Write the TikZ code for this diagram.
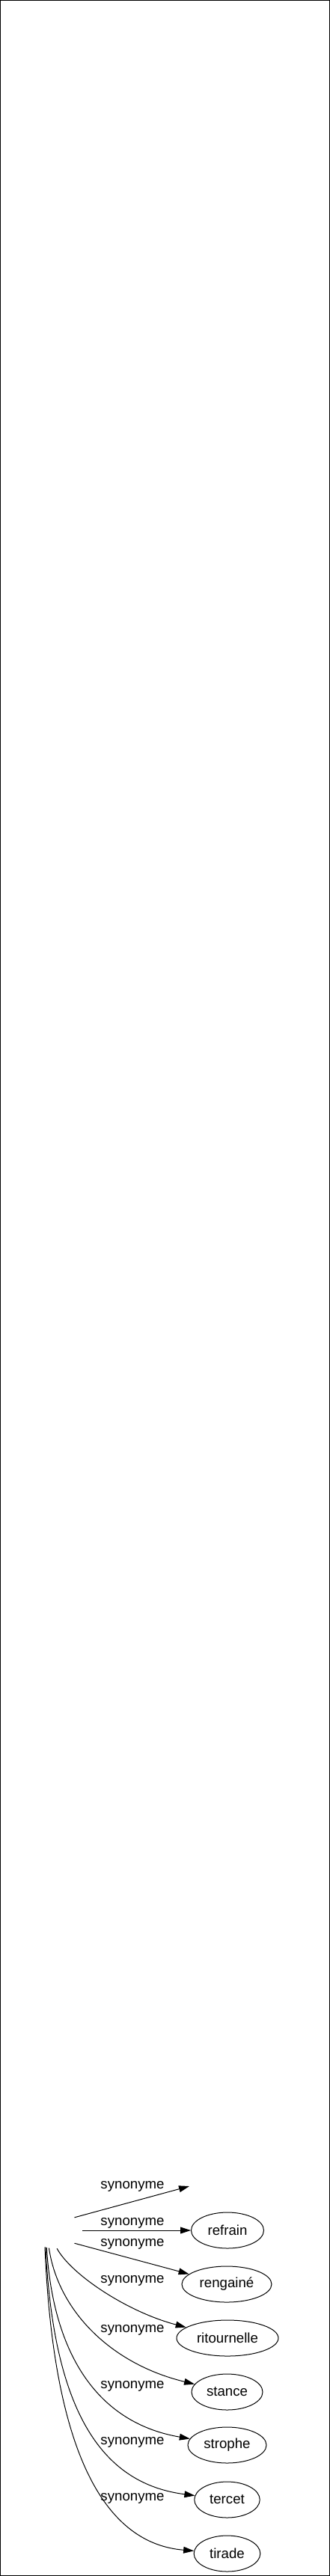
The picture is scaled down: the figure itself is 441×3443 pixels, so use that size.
\documentclass[tikz,border=0pt]{standalone}
\usepackage{fontspec}
\setmainfont{Liberation Sans}
\usetikzlibrary{shapes.geometric,arrows.meta}
\begin{document}
\begin{tikzpicture}[x=0.75pt,y=-0.75pt,
  word/.style={draw, ellipse, line width=0.75pt, inner sep=0pt, minimum height=36pt, font=\fontsize{14}{16}\selectfont},
  hidden/.style={ellipse, inner sep=0pt, minimum width=54pt, minimum height=36pt},
  lbl/.style={inner sep=0pt, font=\fontsize{14}{16}\selectfont},
  syn/.style={-{Triangle[length=10.5pt,width=6.6pt]}, line width=0.75pt},
]
\useasboundingbox (0,0) rectangle (441,3443);
\draw[line width=0.75pt] (0.5,0.5) rectangle (440.5,3442.5);

\node[hidden] (src) at (74,2981) {};
\coordinate (e0) at (253,2922);
\node[word, minimum width=72.75pt] (refrain) at (304,2981) {refrain};
\node[word, minimum width=90pt] (rengaine) at (303,3053) {rengainé};
\node[word, minimum width=102pt] (ritournelle) at (304,3125) {ritournelle};
\node[word, minimum width=71.25pt] (stance) at (303.5,3197) {stance};
\node[word, minimum width=78.75pt] (strophe) at (303.5,3268) {strophe};
\node[word, minimum width=65.6pt] (tercet) at (303.5,3341) {tercet};
\node[word, minimum width=66.5pt] (tirade) at (303.5,3413) {tirade};

\node[lbl] (l0) at (177,2922) {synonyme};
\node[lbl] (l1) at (177,2971) {synonyme};
\node[lbl] (l2) at (177,2999) {synonyme};
\node[lbl] (l3) at (177,3048) {synonyme};
\node[lbl] (l4) at (177,3114) {synonyme};
\node[lbl] (l5) at (177,3189) {synonyme};
\node[lbl] (l6) at (177,3264) {synonyme};
\node[lbl] (l7) at (177,3339) {synonyme};

\draw[syn] (src.34) -- (e0);
\draw[syn] (src.0) -- (refrain);
\draw[syn] (src.-34) -- (rengaine);
\draw[syn] (src.-85) .. controls (95,3040) and (170,3090) .. (ritournelle);
\draw[syn] (src.-110) .. controls (78,3090) and (150,3160) .. (stance);
\draw[syn] (src.-117) .. controls (72,3160) and (140,3240) .. (strophe);
\draw[syn] (src.-120) .. controls (72,3230) and (140,3320) .. (tercet);
\draw[syn] (src.-122) .. controls (72,3290) and (145,3400) .. (tirade);
\end{tikzpicture}
\end{document}
